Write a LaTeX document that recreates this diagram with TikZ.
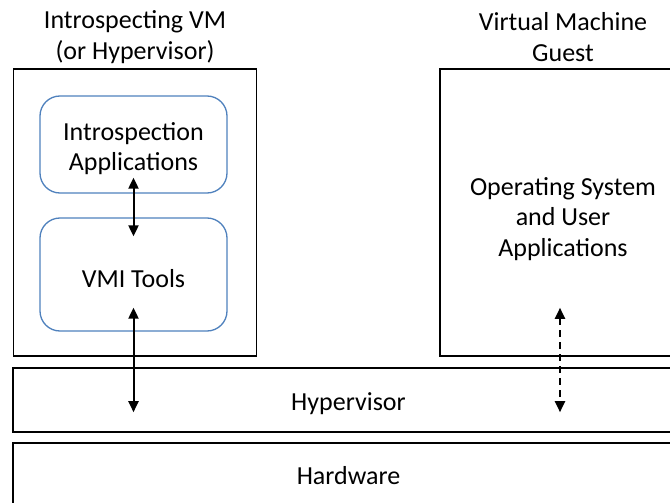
\documentclass[tikz,border=0pt]{standalone}
\usepackage{fontspec}
\setmainfont{Carlito}
\usetikzlibrary{arrows.meta}
\definecolor{boxblue}{RGB}{79,129,189}
\tikzset{
  layer/.style={draw=black, line width=1.6pt, inner sep=0pt},
  inner/.style={draw=boxblue, line width=1.3pt, rounded corners=20pt, inner sep=0pt},
  label/.style={align=center, font=\fontsize{26}{30.5}\selectfont},
  link/.style={line width=2pt, {Triangle[length=11pt,width=10pt]}-{Triangle[length=11pt,width=10pt]}},
}
\begin{document}
\begin{tikzpicture}[x=1pt, y=-1pt]
  \useasboundingbox (0,0) rectangle (670,503);

  % outer layers
  \node[layer, minimum width=243pt, minimum height=287pt] (introvm) at (135,212.5) {};
  \node[layer, minimum width=246pt, minimum height=287pt] (guest) at (563,212.5) {};
  \node[layer, minimum width=671pt, minimum height=64pt] (hyp) at (348.5,400) {};
  \node[layer, minimum width=671pt, minimum height=64pt] (hw) at (348.5,475) {};

  % components inside the introspecting VM
  \node[inner, minimum width=187pt, minimum height=97pt] (apps) at (133.5,144.5) {};
  \node[inner, minimum width=187pt, minimum height=113pt] (vmi) at (133.5,274.5) {};

  % texts
  \node[label] (t1) at (135,37) {Introspecting VM\\(or Hypervisor)};
  \node[label] (t2) at (563,37) {Virtual Machine\\Guest};
  \node[label] at ([yshift=-4pt]apps.center) {Introspection\\Applications};
  \node[label] at ([yshift=-4pt]vmi.center) {VMI Tools};
  \node[label] at (563,219) {Operating System\\and User\\Applications};
  \node[label] at ([yshift=-4pt]hyp.center) {Hypervisor};
  \node[label] at (348.5,476) {Hardware};

  % connectors (shifts are in page directions: positive y is up)
  \draw[link] ([yshift=16pt]apps.south) -- ([yshift=-19pt]vmi.north);
  \draw[link] ([yshift=24pt]vmi.south) -- ([yshift=-45pt]hyp.north -| vmi.south);
  \draw[link, dash pattern=on 7pt off 5pt] ([xshift=-3pt,yshift=49pt]guest.south) -- ([xshift=-3pt,yshift=-45pt]hyp.north -| guest.south);
\end{tikzpicture}
\end{document}
